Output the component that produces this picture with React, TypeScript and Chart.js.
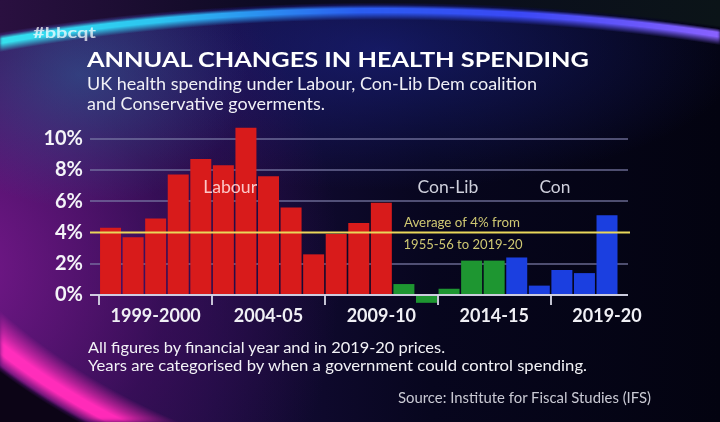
import React, { useEffect, useLayoutEffect, useRef } from "react";
import { Chart, registerables } from "chart.js";

Chart.register(...registerables);

// ---------- data ----------
const years = [
  "1997-98", "1998-99", "1999-2000", "2000-01", "2001-02", "2002-03", "2003-04",
  "2004-05", "2005-06", "2006-07", "2007-08", "2008-09", "2009-10",
  "2010-11", "2011-12", "2012-13", "2013-14", "2014-15",
  "2015-16", "2016-17", "2017-18", "2018-19", "2019-20",
];
const changes = [
  4.3, 3.7, 4.9, 7.7, 8.7, 8.3, 10.7, 7.6, 5.6, 2.6, 3.9, 4.6, 5.9,
  0.7, -0.5, 0.4, 2.2, 2.2,
  2.4, 0.6, 1.6, 1.4, 5.1,
];
const governments = [
  "Labour", "Labour", "Labour", "Labour", "Labour", "Labour", "Labour",
  "Labour", "Labour", "Labour", "Labour", "Labour", "Labour",
  "Con-Lib", "Con-Lib", "Con-Lib", "Con-Lib", "Con-Lib",
  "Con", "Con", "Con", "Con", "Con",
];
const labelledYears = ["1999-2000", "2004-05", "2009-10", "2014-15", "2019-20"];
const yTicks = [0, 2, 4, 6, 8, 10];
const averageGrowth = 4;

// ---------- style ----------
const govColors: Record<string, string> = {
  Labour: "#d81b1b",
  "Con-Lib": "#1e9631",
  Con: "#1b3fe0",
};

const chartNotes = [
  { text: "Labour", x: 5.3, y: 6.95, size: 18, width: 54, color: "rgba(255,214,214,0.92)", weight: "normal" },
  { text: "Con-Lib", x: 14.95, y: 6.95, size: 18, width: 61, color: "#cfd0dc", weight: "normal" },
  { text: "Con", x: 19.69, y: 6.95, size: 18, width: 31, color: "#cfd0dc", weight: "normal" },
  { text: "Average of 4% from", x: 15.57, y: 4.7, size: 14, width: 116, color: "#cfc873", weight: "normal" },
  { text: "1955-56 to 2019-20", x: 15.62, y: 3.27, size: 14, width: 119, color: "#cfc873", weight: "normal" },
];

const pageTexts = [
  { text: "#bbcqt", left: 33, baseline: 38, size: 15, width: 63, weight: 700, color: "rgba(255,255,255,0.72)" },
  { text: "ANNUAL CHANGES IN HEALTH SPENDING", left: 87, baseline: 67, size: 21, width: 502, weight: 700, color: "#ffffff" },
  { text: "UK health spending under Labour, Con-Lib Dem coalition", left: 87, baseline: 90, size: 17, width: 450, weight: 400, color: "#f0f0f6" },
  { text: "and Conservative goverments.", left: 87, baseline: 110, size: 17, width: 238, weight: 400, color: "#f0f0f6" },
  { text: "All figures by financial year and in 2019-20 prices.", left: 88, baseline: 353, size: 15, width: 357, weight: 400, color: "#f2f2f6" },
  { text: "Years are categorised by when a government could control spending.", left: 88, baseline: 371, size: 15, width: 499, weight: 400, color: "#f2f2f6" },
  { text: "Source: Institute for Fiscal Studies (IFS)", left: 398, baseline: 403, size: 15, width: 253, weight: 400, color: "#c9c9d3" },
];

const FONT = "Lato, 'Open Sans', 'DejaVu Sans', sans-serif";

const overlayPlugin = {
  id: "overlay",
  afterDatasetsDraw(chart: any) {
    const { ctx, chartArea, scales } = chart;
    const y = scales.y.getPixelForValue(averageGrowth);
    ctx.save();
    ctx.strokeStyle = "#e9d75a";
    ctx.lineWidth = 2;
    ctx.beginPath();
    ctx.moveTo(chartArea.left, y);
    ctx.lineTo(chartArea.right + 2, y);
    ctx.stroke();
    ctx.restore();
  },
  afterDraw(chart: any) {
    const { ctx, scales } = chart;
    chartNotes.forEach((n) => {
      ctx.save();
      ctx.font = `${n.weight} ${n.size}px ${FONT}`;
      const w = ctx.measureText(n.text).width;
      const px = scales.x.getPixelForValue(n.x);
      const py = scales.y.getPixelForValue(n.y) + 0.358 * n.size;
      ctx.translate(px, py);
      ctx.scale(n.width / w, 1);
      ctx.textAlign = "center";
      ctx.textBaseline = "alphabetic";
      ctx.fillStyle = n.color;
      ctx.fillText(n.text, 0, 0);
      ctx.restore();
    });
  },
};

function FitText(props: any) {
  const ref = useRef<HTMLDivElement>(null);
  const t = props.t;
  useLayoutEffect(() => {
    const el = ref.current;
    if (!el) return;
    el.style.transform = "none";
    const w = el.getBoundingClientRect().width;
    el.style.transform = `scaleX(${t.width / w})`;
  }, [t]);
  return (
    <div
      ref={ref}
      style={{
        position: "absolute",
        left: t.left,
        top: t.baseline - 0.887 * t.size,
        fontFamily: FONT,
        fontSize: t.size,
        lineHeight: `${t.size}px`,
        fontWeight: t.weight,
        color: t.color,
        whiteSpace: "nowrap",
        transformOrigin: "0 0",
      }}
    >
      {t.text}
    </div>
  );
}

export default function App() {
  const canvasRef = useRef<HTMLCanvasElement>(null);

  useEffect(() => {
    if (!canvasRef.current) return;
    const chart = new Chart(canvasRef.current, {
      type: "bar",
      data: {
        datasets: [
          {
            data: changes.map((v, i) => ({ x: i, y: v })),
            backgroundColor: governments.map((g) => govColors[g]),
            borderWidth: 0,
            categoryPercentage: 1,
            barPercentage: 0.93,
            clip: false as any,
          },
        ],
      },
      options: {
        animation: false,
        responsive: false,
        layout: { padding: { left: 0, right: 92, top: 123, bottom: 97 } },
        plugins: { legend: { display: false }, tooltip: { enabled: false }, title: { display: false } },
        scales: {
          x: {
            type: "linear",
            min: -0.91,
            max: 22.93,
            offset: false,
            afterBuildTicks: (s: any) => {
              s.ticks = labelledYears.map((l) => ({ value: years.indexOf(l) }));
            },
            afterFit: (s: any) => {
              s.height = 30;
            },
            border: { display: false },
            grid: {
              drawOnChartArea: false,
              drawTicks: true,
              tickLength: 10,
              lineWidth: 2,
              color: "rgba(215,215,230,0.9)",
            },
            ticks: {
              padding: 0,
              color: "#f0f0f5",
              font: { family: FONT, size: 18, weight: "bold" },
              callback: (v: any) => years[v as number],
              maxRotation: 0,
              autoSkip: false,
            },
          },
          y: {
            min: 0,
            max: 11,
            z: 1,
            afterBuildTicks: (s: any) => {
              s.ticks = yTicks.map((v) => ({ value: v }));
            },
            afterFit: (s: any) => {
              s.width = 90;
            },
            border: { display: false },
            grid: {
              drawTicks: false,
              lineWidth: 2,
              color: (c: any) =>
                c.tick && c.tick.value === averageGrowth
                  ? "rgba(0,0,0,0)"
                  : c.tick && c.tick.value === 0
                  ? "rgba(215,215,232,0.95)"
                  : "rgba(125,125,168,0.62)",
            },
            ticks: {
              padding: 7,
              color: "#f4f4f8",
              font: { family: FONT, size: 20, weight: "bold" },
              callback: (v: any) => `${v}%`,
            },
          },
        },
      },
      plugins: [overlayPlugin],
    });
    return () => chart.destroy();
  }, []);

  const layer = { position: "absolute" as const, left: 0, top: 0, width: 720, height: 422 };

  return (
    <div
      style={{
        ...layer,
        overflow: "hidden",
        background:
          "radial-gradient(ellipse 240px 190px at 80px 75px, rgba(45,120,170,0.45), rgba(45,120,170,0) 70%)," +
          "radial-gradient(ellipse 380px 400px at -40px 270px, rgba(125,25,145,0.9), rgba(75,15,105,0.55) 55%, rgba(60,10,90,0) 100%)," +
          "radial-gradient(ellipse 520px 200px at 380px 50px, rgba(30,40,150,0.55), rgba(30,40,150,0) 70%)," +
          "linear-gradient(90deg, #2b0f4c 0%, #150c3a 30%, #07061e 60%, #030310 100%)",
      }}
    >
      {/* dark area outside top arc */}
      <div
        style={{
          ...layer,
          background: "linear-gradient(90deg, #2a1040 0%, #0a0a20 40%, #0b1418 100%)",
          WebkitMaskImage:
            "radial-gradient(ellipse 800px 250px at 380px 255px, transparent 100%, #000 101%)",
          maskImage: "radial-gradient(ellipse 800px 250px at 380px 255px, transparent 100%, #000 101%)",
        }}
      />
      {/* top arc */}
      <div
        style={{
          ...layer,
          background:
            "linear-gradient(90deg, #35e2ee 0%, #2cc4f0 22%, #2a5cf0 50%, #3a48f5 72%, #8a62ff 100%)",
          WebkitMaskImage:
            "radial-gradient(ellipse 800px 250px at 380px 255px, transparent 94%, #000 97%, #000 98.6%, transparent 100%)",
          maskImage:
            "radial-gradient(ellipse 800px 250px at 380px 255px, transparent 94%, #000 97%, #000 98.6%, transparent 100%)",
          filter: "blur(1.5px)",
        }}
      />
      {/* dark outside pink arc */}
      <div
        style={{
          ...layer,
          background: "#0c0416",
          WebkitMaskImage: "radial-gradient(ellipse 700px 521px at 500px 0px, transparent 100%, #000 101%)",
          maskImage: "radial-gradient(ellipse 700px 521px at 500px 0px, transparent 100%, #000 101%)",
        }}
      />
      {/* pink arc */}
      <div
        style={{
          ...layer,
          background: "linear-gradient(180deg, #ff45d0 0%, #ff2ab8 100%)",
          WebkitMaskImage:
            "radial-gradient(ellipse 700px 521px at 500px 0px, transparent 93%, rgba(0,0,0,0.6) 95.5%, #000 97%, #000 98.5%, transparent 100.5%)",
          maskImage:
            "radial-gradient(ellipse 700px 521px at 500px 0px, transparent 93%, rgba(0,0,0,0.6) 95.5%, #000 97%, #000 98.5%, transparent 100.5%)",
          filter: "blur(2px)",
        }}
      />
      {pageTexts.map((t) => (
        <FitText key={t.text} t={t} />
      ))}
      <canvas ref={canvasRef} width={720} height={422} style={{ ...layer, width: 720, height: 422 }} />
    </div>
  );
}
